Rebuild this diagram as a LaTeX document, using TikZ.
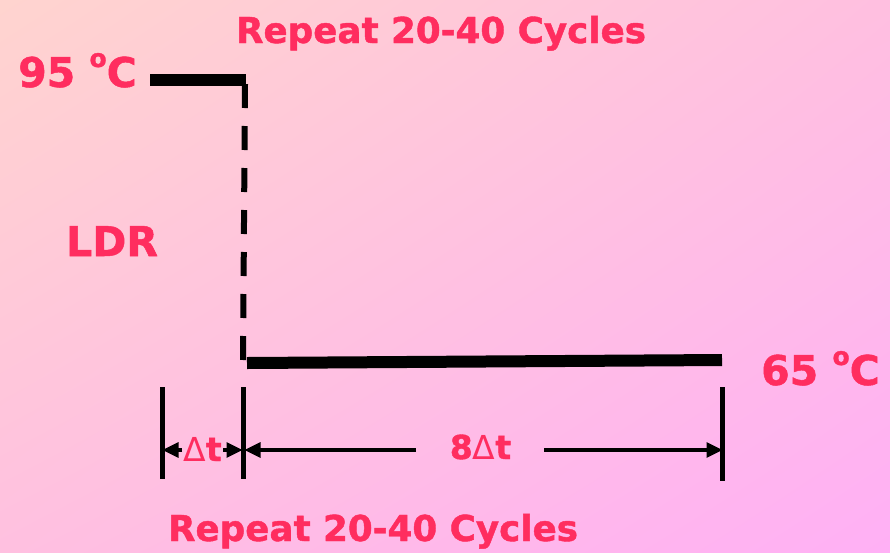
\documentclass[tikz,border=0pt]{standalone}
\usepackage{fontspec}
\setmainfont{DejaVu Sans}
\newfontfamily\heavyfont{DejaVu Sans Bold}[FakeBold=1.2]
\usetikzlibrary{arrows.meta,shadings}
\definecolor{bgTL}{RGB}{255,212,207}
\definecolor{bgTR}{RGB}{255,191,224}
\definecolor{bgBL}{RGB}{255,192,224}
\definecolor{bgBR}{RGB}{255,176,245}
\definecolor{labred}{RGB}{255,45,95}
\tikzset{
  lab/.style={text=labred, font=\heavyfont\fontsize{41}{45}\selectfont, inner sep=0pt},
  rep/.style={text=labred, font=\heavyfont\fontsize{35.7}{40}\selectfont, inner sep=0pt, anchor=base},
  dlab/.style={text=labred, font=\heavyfont\fontsize{33}{37}\selectfont, inner sep=0pt, anchor=base},
  level/.style={line width=12pt},
  drop/.style={line width=6pt, dash pattern=on 24pt off 18pt},
  tick/.style={line width=4.5pt},
  dim/.style={line width=3.2pt, -{Triangle[length=16pt,width=15pt]}},
}
\newcommand{\dgsup}{\raisebox{20pt}{\fontsize{25}{28}\selectfont o}}
\begin{document}
\begin{tikzpicture}[x=1pt,y=-1pt]
\shade[upper left=bgTL, upper right=bgTR, lower left=bgBL, lower right=bgBR] (0,0) rectangle (890,552);
\useasboundingbox (0,0) rectangle (890,552);
% labels
\node[rep] (rtop) at (441,43) {Repeat 20-40 Cycles};
\node[rep] (rbot) at (373,541) {Repeat 20-40 Cycles};
\node[lab, anchor=base west] (t95) at (18,87) {95 \dgsup C};
\node[lab, anchor=base west] (ldr) at (66,256) {LDR};
\node[lab, anchor=base west] (t65) at (761,385) {65 \dgsup C};
\node[dlab] (dt) at (202.5,461) {{\mdseries\fontspec{DejaVu Sans}Δ}t};
\node[dlab] (edt) at (480.5,459) {8{\mdseries\fontspec{DejaVu Sans}Δ}t};
% profile
\coordinate (a1) at (150,79.5);
\coordinate (a2) at (246,79.5);
\coordinate (b1) at (245,84);
\coordinate (b2) at (243,360);
\coordinate (c1) at (247,363);
\coordinate (c2) at (722,360);
\draw[level] (a1) -- (a2);
\draw[drop] (b1) -- (b2);
\draw[level] (c1) -- (c2);
% ticks
\coordinate (k1t) at (162.5,387); \coordinate (k1b) at (162.5,479);
\coordinate (k2t) at (243.5,387); \coordinate (k2b) at (243.5,479);
\coordinate (k3t) at (722.5,387); \coordinate (k3b) at (722.5,481);
\draw[tick] (k1t) -- (k1b);
\draw[tick] (k2t) -- (k2b);
\draw[tick] (k3t) -- (k3b);
% dimension arrows
\coordinate (d1s) at (182,450); \coordinate (d1e) at (162.5,450);
\coordinate (d2s) at (223,450); \coordinate (d2e) at (242.5,450);
\coordinate (d3s) at (416,450); \coordinate (d3e) at (244.5,450);
\coordinate (d4s) at (544,450); \coordinate (d4e) at (722.5,450);
\draw[dim] (d1s) -- (d1e);
\draw[dim] (d2s) -- (d2e);
\draw[dim] (d3s) -- (d3e);
\draw[dim] (d4s) -- (d4e);
\end{tikzpicture}
\end{document}
